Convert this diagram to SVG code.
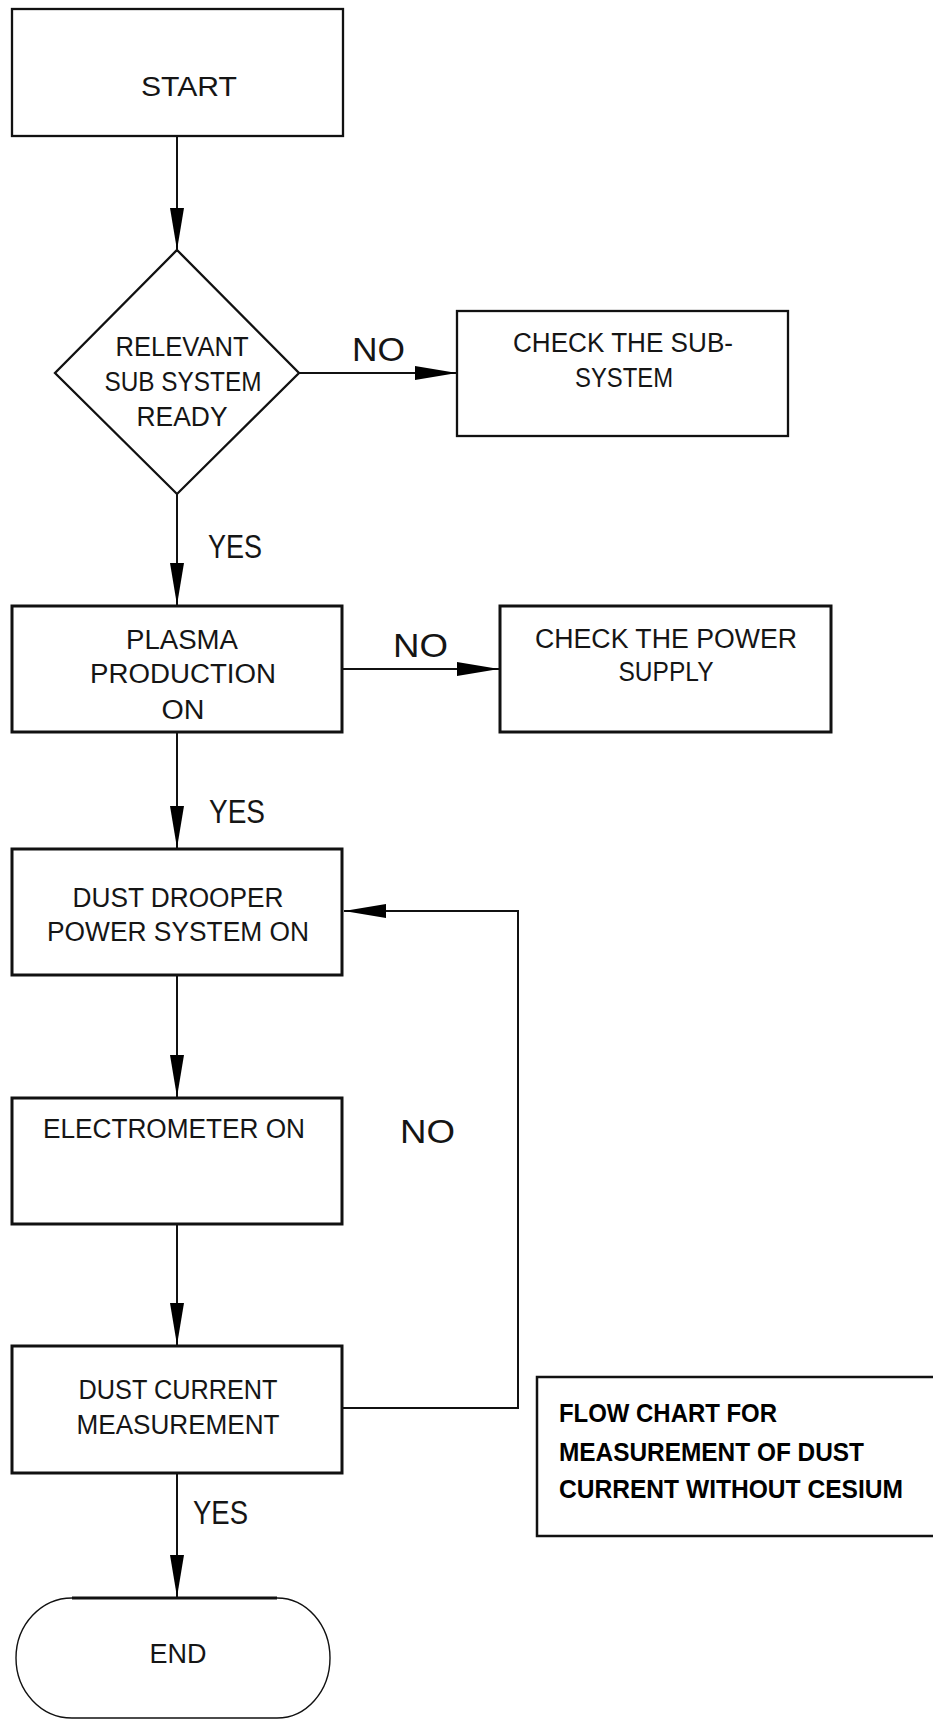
<svg xmlns="http://www.w3.org/2000/svg" width="933" height="1722" viewBox="0 0 933 1722">
<style>
.box{fill:#fff;stroke:#111;stroke-width:3}
.thin{fill:#fff;stroke:#111;stroke-width:2.3}
.t{font-family:"Liberation Sans",Arial,sans-serif;font-size:27px;fill:#151515;text-anchor:middle}
.lbl{font-family:"Liberation Sans",Arial,sans-serif;font-size:34px;fill:#151515}
.cap{font-family:"Liberation Sans",Arial,sans-serif;font-size:25.5px;font-weight:bold;fill:#000}
.con{fill:none;stroke:#111;stroke-width:2}
</style>
<defs>
<marker id="ah" markerUnits="userSpaceOnUse" markerWidth="42" markerHeight="14" refX="42" refY="7" orient="auto">
<path d="M0,0 L42,7 L0,14 z" fill="#000"/>
</marker>
</defs>
<rect width="933" height="1722" fill="#fff"/>

<g id="connectors">
<line class="con" x1="177" y1="137" x2="177" y2="250" marker-end="url(#ah)"/>
<line class="con" x1="299" y1="373" x2="457" y2="373" marker-end="url(#ah)"/>
<line class="con" x1="177" y1="494" x2="177" y2="605" marker-end="url(#ah)"/>
<line class="con" x1="343" y1="669" x2="499" y2="669" marker-end="url(#ah)"/>
<line class="con" x1="177" y1="733" x2="177" y2="848" marker-end="url(#ah)"/>
<line class="con" x1="177" y1="976" x2="177" y2="1097" marker-end="url(#ah)"/>
<line class="con" x1="177" y1="1225" x2="177" y2="1345" marker-end="url(#ah)"/>
<path class="con" d="M343,1408 L518,1408 L518,911 L344,911" stroke-width="2.5" marker-end="url(#ah)"/>
<line class="con" x1="177" y1="1474" x2="177" y2="1597" marker-end="url(#ah)"/>
<text class="lbl" x="352" y="361" textLength="53" lengthAdjust="spacingAndGlyphs">NO</text>
<text class="lbl" x="208" y="558" textLength="54" lengthAdjust="spacingAndGlyphs">YES</text>
<text class="lbl" x="393" y="657" textLength="55" lengthAdjust="spacingAndGlyphs">NO</text>
<text class="lbl" x="209" y="823" textLength="56" lengthAdjust="spacingAndGlyphs">YES</text>
<text class="lbl" x="400" y="1143" textLength="55" lengthAdjust="spacingAndGlyphs">NO</text>
<text class="lbl" x="193" y="1524" textLength="55" lengthAdjust="spacingAndGlyphs">YES</text>
</g>

<g id="start">
<rect class="thin" x="12" y="9" width="331" height="127"/>
<text class="t" x="189" y="96" font-size="36" textLength="96" lengthAdjust="spacingAndGlyphs">START</text>
</g>

<g id="decision">
<polygon class="thin" points="177,250 299,373 177,494 55,373"/>
<text class="t" x="182" y="356" textLength="133" lengthAdjust="spacingAndGlyphs">RELEVANT</text>
<text class="t" x="183" y="391" textLength="157" lengthAdjust="spacingAndGlyphs">SUB SYSTEM</text>
<text class="t" x="182" y="426" textLength="91" lengthAdjust="spacingAndGlyphs">READY</text>
</g>

<g id="check-subsystem">
<rect class="thin" x="457" y="311" width="331" height="125"/>
<text class="t" x="623" y="352" textLength="220" lengthAdjust="spacingAndGlyphs">CHECK THE SUB-</text>
<text class="t" x="624" y="387" textLength="98" lengthAdjust="spacingAndGlyphs">SYSTEM</text>
</g>

<g id="plasma">
<rect class="box" x="12" y="606" width="330" height="126"/>
<text class="t" x="182" y="649" textLength="112" lengthAdjust="spacingAndGlyphs">PLASMA</text>
<text class="t" x="183" y="683" textLength="186" lengthAdjust="spacingAndGlyphs">PRODUCTION</text>
<text class="t" x="183" y="719" textLength="43" lengthAdjust="spacingAndGlyphs">ON</text>
</g>

<g id="check-power">
<rect class="box" x="500" y="606" width="331" height="126"/>
<text class="t" x="666" y="648" textLength="262" lengthAdjust="spacingAndGlyphs">CHECK THE POWER</text>
<text class="t" x="666" y="681" textLength="95" lengthAdjust="spacingAndGlyphs">SUPPLY</text>
</g>

<g id="dust-drooper">
<rect class="box" x="12" y="849" width="330" height="126"/>
<text class="t" x="178" y="907" textLength="211" lengthAdjust="spacingAndGlyphs">DUST DROOPER</text>
<text class="t" x="178" y="941" textLength="262" lengthAdjust="spacingAndGlyphs">POWER SYSTEM ON</text>
</g>

<g id="electrometer">
<rect class="box" x="12" y="1098" width="330" height="126"/>
<text class="t" x="174" y="1138" textLength="262" lengthAdjust="spacingAndGlyphs">ELECTROMETER ON</text>
</g>

<g id="dust-current">
<rect class="box" x="12" y="1346" width="330" height="127"/>
<text class="t" x="178" y="1399" textLength="199" lengthAdjust="spacingAndGlyphs">DUST CURRENT</text>
<text class="t" x="178" y="1434" textLength="203" lengthAdjust="spacingAndGlyphs">MEASUREMENT</text>
</g>

<g id="end">
<path d="M72,1598 L277,1598 A53,60 0 0 1 277,1718 L72,1718 A56,60 0 0 1 72,1598 Z" fill="#fff" stroke="#111" stroke-width="1.4"/>
<line x1="72" y1="1598" x2="277" y2="1598" stroke="#111" stroke-width="3"/>
<text class="t" x="178" y="1663" textLength="57" lengthAdjust="spacingAndGlyphs">END</text>
</g>

<g id="caption">
<path d="M940,1377 L537,1377 L537,1536 L940,1536" fill="#fff" stroke="#111" stroke-width="2.5"/>
<text class="cap" x="559" y="1422" textLength="218" lengthAdjust="spacingAndGlyphs">FLOW CHART FOR</text>
<text class="cap" x="559" y="1461" textLength="305" lengthAdjust="spacingAndGlyphs">MEASUREMENT OF DUST</text>
<text class="cap" x="559" y="1498" textLength="344" lengthAdjust="spacingAndGlyphs">CURRENT WITHOUT CESIUM</text>
</g>
</svg>
